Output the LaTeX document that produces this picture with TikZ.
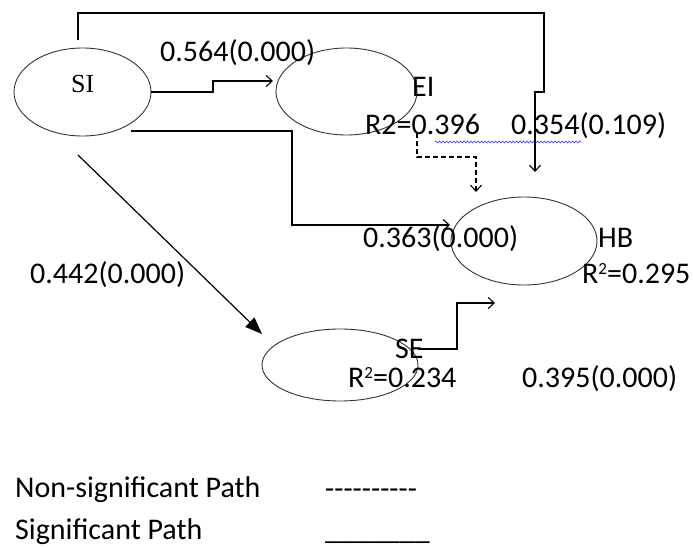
\documentclass[tikz,border=0pt]{standalone}
\usepackage{fontspec}
\setmainfont{Carlito}
\newfontfamily\serifx{Liberation Serif}
\usetikzlibrary{shapes.geometric,arrows.meta,decorations.pathmorphing}
\newcommand{\sqtwo}{\raisebox{8.5pt}{\fontsize{17}{18}\selectfont 2}}
\begin{document}
\begin{tikzpicture}[x=1pt,y=-1pt,
  oval/.style={ellipse,draw=black!80,line width=0.9pt,inner sep=0pt},
  lbl/.style={anchor=base west,inner sep=0pt,font=\fontsize{30}{36}\selectfont},
  conn/.style={line width=1.2pt,-{Straight Barb[length=6pt,width=11pt,line width=1.1pt]}},
  bigconn/.style={line width=1.2pt,-{Triangle[length=17pt,width=13pt]}}]
\useasboundingbox (0,0) rectangle (693,548);
% ellipses
\node[oval,minimum width=137pt,minimum height=88pt] (SI) at (82.5,92) {};
\node[oval,minimum width=141pt,minimum height=87pt] (EI) at (346.5,91.5) {};
\node[oval,minimum width=146pt,minimum height=88pt] (HB) at (524,241) {};
\node[oval,minimum width=156pt,minimum height=72pt] (SE) at (340,365) {};
% ellipse labels
\node[anchor=base west,inner sep=0pt,font=\serifx\fontsize{26}{30}\selectfont] (siT) at (71,93) {SI};
\node[lbl] (eiT) at (412,97) {EI};
\node[lbl] (eiR) at (365,135) {R2=0.396};
\node[lbl] (hbT) at (598,247) {HB};
\node[lbl] (hbR) at (582,283) {R\sqtwo=0.295};
\node[lbl] (seT) at (395,358) {SE};
\node[lbl] (seR) at (348,387) {R\sqtwo=0.234};
% path labels
\node[lbl] (l1) at (160,62) {0.564(0.000)};
\node[lbl] (l2) at (511,135) {0.354(0.109)};
\node[lbl] (l3) at (363,247) {0.363(0.000)};
\node[lbl] (l4) at (30,283) {0.442(0.000)};
\node[lbl] (l5) at (522,387) {0.395(0.000)};
% spell-check underline
\coordinate (w1) at (435,142);
\coordinate (w2) at (581,142);
\draw[blue!80,line width=0.6pt,decorate,decoration={snake,amplitude=1pt,segment length=3.5pt}] (w1) -- (w2);
% connector end points
\coordinate (siTop) at (78,40);
\coordinate (hbTopIn) at (535,172);
\coordinate (eiIn) at (273,81);
\coordinate (siLow) at (131,131);
\coordinate (hbIn) at (450,225);
\coordinate (eiLow) at (417,133);
\coordinate (hbDash) at (476,192);
\coordinate (siDiag) at (78,155);
\coordinate (seIn) at (262,334);
\coordinate (seOut) at (418,349);
\coordinate (hbSE) at (495,303);
% connectors
\draw[conn] (siTop) -- (78,13) -- (544,13) -- (544,92) -- (535,92) -- (hbTopIn);
\draw[conn] (SI.east) -- (213,92) -- (213,81) -- (eiIn);
\draw[conn] (siLow) -- (292,131) -- (292,225) -- (hbIn);
\draw[conn,dashed,dash pattern=on 5pt off 3pt] (eiLow) -- (417,157) -- (476,157) -- (hbDash);
\draw[bigconn] (siDiag) -- (seIn);
\draw[conn] (seOut) -- (457,349) -- (457,303) -- (hbSE);
% legend
\node[lbl] (leg1) at (15,497) {Non-significant Path};
\node[lbl] (leg2) at (15,539) {Significant Path};
\node[lbl] (leg1s) at (325,498) {-{}-{}-{}-{}-{}-{}-{}-{}-{}-};
\node[lbl] (leg2s) at (325,539) {\_\_\_\_\_\_\_};
\end{tikzpicture}
\end{document}
